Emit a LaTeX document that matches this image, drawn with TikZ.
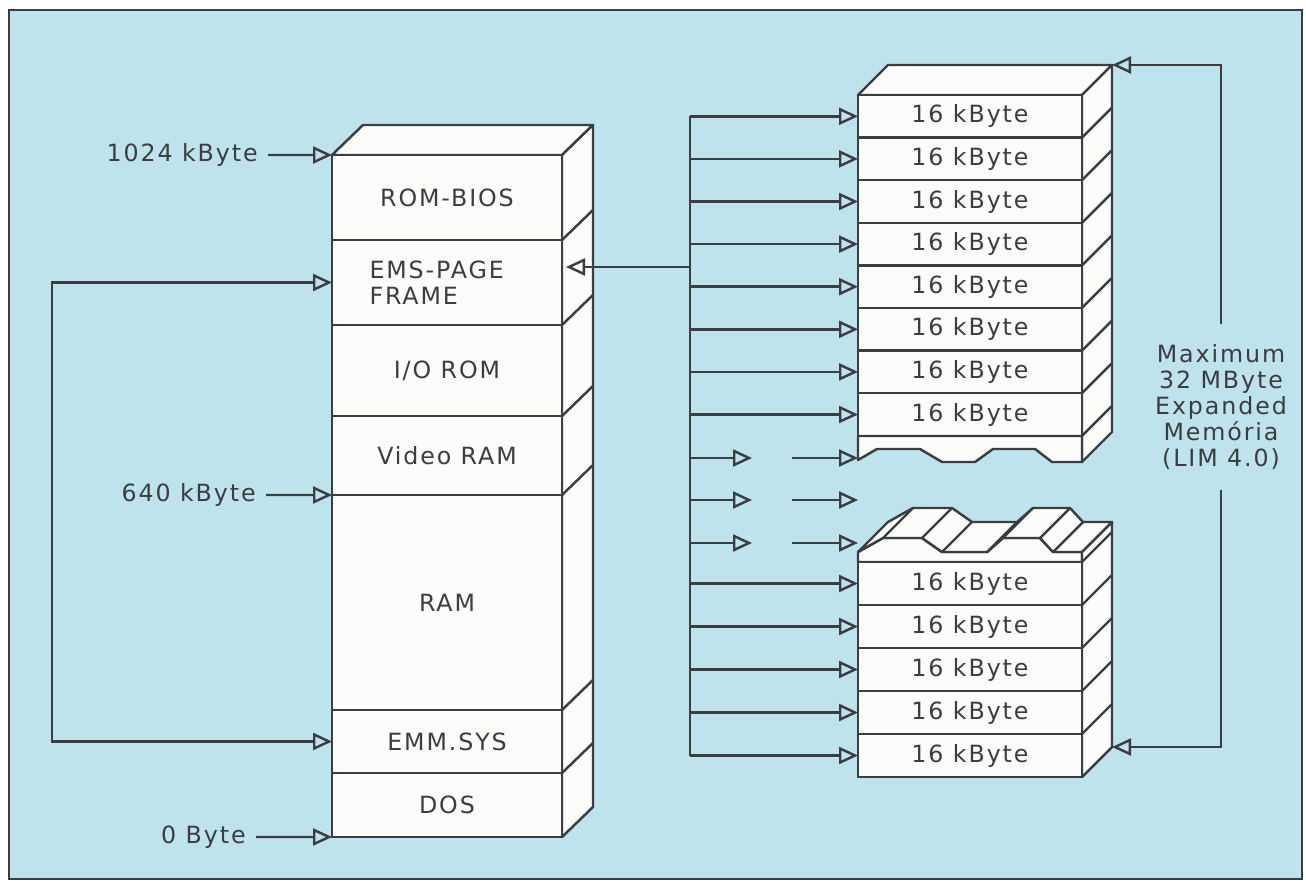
\documentclass[tikz,border=0pt]{standalone}
\usepackage{fontspec}
\usetikzlibrary{arrows.meta}
\newfontfamily\plotfont[LetterSpace=8]{DejaVu Sans}
\definecolor{emsPaper}{RGB}{190,227,237}
\definecolor{emsInk}{RGB}{58,62,66}
\definecolor{emsBlock}{RGB}{252,252,250}

\begin{document}
\begin{tikzpicture}[x=.02cm,y=-.02cm,
      >={Triangle[open,length=.38cm,width=.34cm]},
      cell/.style={draw=emsInk, fill=emsBlock, line width=1.4pt,
        inner sep=0pt, outer sep=0pt, minimum width=4.6cm,
        font=\plotfont\fontsize{13.5}{15}\selectfont, text=emsInk},
      kbcell/.style={cell, minimum width=4.48cm, minimum height=.852cm},
      face/.style={draw=emsInk, fill=emsBlock, line width=1.4pt,
        line join=round},
      edge/.style={draw=emsInk, line width=1.4pt},
      addr/.style={font=\plotfont\fontsize{13.5}{15}\selectfont,
        text=emsInk, anchor=east, inner sep=.2cm}]
      \useasboundingbox (0,0) rectangle (1306,882);
      \fill[white] (0,0) rectangle (1306,882);
      \path[fill=emsPaper, draw=emsInk, line width=1.4pt]
        (9,10) rectangle (1302,879);

      % conventional memory map
      \path[face] (332,155) -- (363,125) -- (593,125) -- (562,155) -- cycle;
      \path[face] (562,155) -- (593,125) -- (593,807) -- (562,837) -- cycle;
      \foreach \y in {240,325,416,495,710,773}
        \draw[edge] (562,\y) -- ++(31,-30);
      \node[cell, minimum height=1.7cm] (rombios) at (447,197.5) {ROM-BIOS};
      \node[cell, minimum height=1.7cm, text width=3.1cm, align=left]
        (emsframe) at (447,282.5) {EMS-PAGE\\FRAME};
      \node[cell, minimum height=1.82cm] (iorom) at (447,370.5) {I/O ROM};
      \node[cell, minimum height=1.58cm] (videoram) at (447,455.5) {Video RAM};
      \node[cell, minimum height=4.3cm] (ram) at (447,602.5) {RAM};
      \node[cell, minimum height=1.26cm] (emmsys) at (447,741.5) {EMM.SYS};
      \node[cell, minimum height=1.28cm] (dos) at (447,805) {DOS};

      \node[addr] (a1024) at (268,155) {1024 kByte};
      \draw[edge,->] (a1024.east) -- (rombios.north west);
      \node[addr] (a640) at (266,495) {640 kByte};
      \draw[edge,->] (a640.east) -- (videoram.south west);
      \node[addr] (a0) at (256,837) {0 Byte};
      \draw[edge,->] (a0.east) -- (dos.south west);

      \coordinate (loopx) at (52,0);
      \draw[edge,<->] (emsframe.west) -- (emsframe.west -| loopx)
        |- (emmsys.west);

      % expanded memory, upper stack
      \path[face] (858,95) -- (888,65) -- (1112,65) -- (1082,95) -- cycle;
      \path[face] (1082,95) -- (1112,65) -- (1112,432) -- (1082,462) -- cycle;
      \foreach \i in {0,...,7}{
        \node[kbcell] (upper\i) at (970,{116.3+42.6*\i}) {16 kByte};
        \draw[edge] (upper\i.south east) -- ++(30,-30);}
      \path[face] (858,436) -- (1082,436) -- (1082,462) -- (1052,462)
        -- (1035,449) -- (993,449) -- (975,462) -- (942,462) -- (920,449)
        -- (877,449) -- (858,460) -- cycle;

      % expanded memory, lower stack
      \path[face] (858,562) -- (858,552) -- (883,538) -- (922,538)
        -- (942,552) -- (987,552) -- (1003,538) -- (1040,538) -- (1053,552)
        -- (1082,552) -- (1082,562) -- cycle;
      \path[face] (858,552) -- (883,538) -- (922,538) -- (942,552)
        -- (987,552) -- (1003,538) -- (1040,538) -- (1053,552) -- (1082,552)
        -- (1112,522) -- (1083,522) -- (1070,508) -- (1033,508) -- (1017,522)
        -- (972,522) -- (952,508) -- (913,508) -- (888,522) -- cycle;
      \foreach \p in {(883,538),(922,538),(942,552),(987,552),(1003,538),
          (1040,538),(1053,552)}
        \draw[edge] \p -- ++(30,-30);
      \path[face] (1082,552) -- (1112,522) -- (1112,747) -- (1082,777) -- cycle;
      \foreach \i in {0,...,4}{
        \node[kbcell, minimum height=.86cm] (lower\i) at (970,{583.5+43*\i})
          {16 kByte};
        \draw[edge] (lower\i.north east) -- ++(30,-30);}

      % page bus
      \coordinate (bus) at (690,0);
      \draw[edge] (bus |- upper0.west) -- (bus |- lower4.west);
      \foreach \i in {0,...,7}
        \draw[edge,->] (bus |- upper\i.west) -- (upper\i.west);
      \foreach \i in {0,...,4}
        \draw[edge,->] (bus |- lower\i.west) -- (lower\i.west);
      \foreach \y [count=\k] in {458,500,543}{
        \coordinate (gapin\k) at (752,\y);
        \coordinate (gapout\k) at (792,\y);
        \coordinate (gapend\k) at (858,\y);
        \draw[edge,->] (bus |- gapin\k) -- (gapin\k);
        \draw[edge,->] (gapout\k) -- (gapend\k);}
      \coordinate (emsin) at (566,267);
      \draw[edge,->] (bus |- emsin) -- (emsin);

      % size bracket
      \node[font=\plotfont\fontsize{13.5}{14.7}\selectfont, text=emsInk,
        align=center, inner sep=.4cm] (maxnote) at (1221,407)
        {Maximum\\32 MByte\\Expanded\\Memória\\(LIM 4.0)};
      \coordinate (upperback) at (1112,65);
      \coordinate (lowerback) at (1112,747);
      \draw[edge,->] (maxnote.north) |- (upperback);
      \draw[edge,->] (maxnote.south) |- (lowerback);
    \end{tikzpicture}
\end{document}
